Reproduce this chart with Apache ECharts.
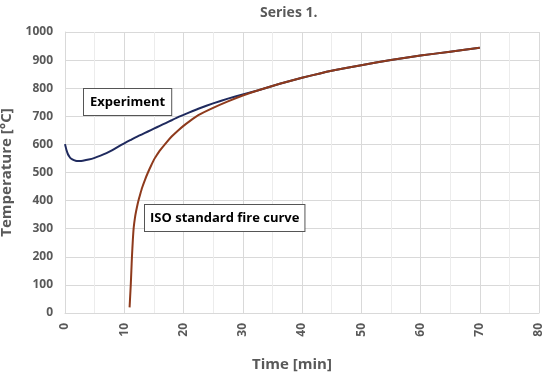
<!DOCTYPE html>
<html>
<head>
<meta charset="utf-8">
<script src="https://cdn.jsdelivr.net/npm/echarts@6/dist/echarts.min.js"></script>
<style>html,body{margin:0;padding:0;background:#fff}#c{width:550px;height:377px}</style>
</head>
<body>
<div id="c"></div>
<script>
// Data: [time (min), temperature (°C)]
var experimentTime = [0, 0.25, 0.5, 0.75, 1, 1.5, 2, 2.5, 3, 4, 5, 6, 7, 8, 9, 10, 11, 12, 13, 14, 15, 16, 17, 18, 19, 20, 21, 22.5, 25, 27.5, 30, 32.5, 35, 37.5, 40, 45, 50, 55, 60, 65, 70];
var experimentTemp = [601, 580, 565, 556, 550, 544, 541, 541, 542, 546, 552, 560, 569, 580, 592, 604, 615, 626, 636, 646, 656, 666, 676, 686, 696, 705, 714, 727, 746, 763, 778, 792, 808, 823, 837, 862, 882, 900, 916, 930, 944];
var isoTime = [10.9, 11.0, 11.1, 11.2, 11.3, 11.45, 11.6, 11.8, 12, 12.25, 12.5, 12.75, 13, 13.5, 14, 14.5, 15, 15.5, 16, 17, 18, 19, 20, 21, 22.5, 25, 27.5, 30, 32.5, 35, 37.5, 40, 45, 50, 55, 60, 65, 70];
var isoTemp = [20, 60, 100, 150, 200, 260, 305, 338, 362, 387, 408, 427, 445, 474, 500, 523, 545, 562, 578, 604, 628, 648, 666, 682, 704, 730, 753, 774, 792, 808, 823, 837, 862, 882, 900, 916, 930, 944];
var xTicks = [0, 10, 20, 30, 40, 50, 60, 70, 80];
var yTicks = [0, 100, 200, 300, 400, 500, 600, 700, 800, 900, 1000];

function pairs(xs, ys) { return xs.map(function (x, i) { return [x, ys[i]]; }); }

var chart = echarts.init(document.getElementById('c'));
var labelColor = '#595959';
var font = '"Open Sans", "Liberation Sans", sans-serif';
chart.setOption({
  animation: false,
  backgroundColor: '#ffffff',
  title: {
    text: 'Series 1.',
    left: 255, top: 1,
    textStyle: { color: labelColor, fontSize: 14, fontWeight: 'bold', fontFamily: font }
  },
  grid: { left: 65, right: 11, top: 32, bottom: 64, containLabel: false, outerBoundsMode: 'none' },
  xAxis: {
    type: 'value',
    min: xTicks[0], max: xTicks[xTicks.length - 1], interval: 10,
    name: 'Time [min]',
    nameLocation: 'middle', nameGap: 44,
    nameTextStyle: { color: labelColor, fontSize: 15, fontWeight: 'bold', fontFamily: font, padding: [0, 20, 0, 0] },
    axisLine: { lineStyle: { color: '#d9d9d9' } },
    axisTick: { show: false },
    axisLabel: { rotate: 90, color: labelColor, fontSize: 12, fontWeight: 'bold', fontFamily: font, margin: 10 },
    splitLine: { lineStyle: { color: '#d9d9d9' } },
    minorTick: { show: false, splitNumber: 2 },
    minorSplitLine: { show: true, lineStyle: { color: '#ececec' } }
  },
  yAxis: {
    type: 'value',
    min: yTicks[0], max: yTicks[yTicks.length - 1], interval: 100,
    name: 'Temperature [°C]',
    nameLocation: 'middle', nameGap: 34,
    nameTextStyle: { color: labelColor, fontSize: 15, fontWeight: 'bold', fontFamily: font },
    axisLine: { show: true, lineStyle: { color: '#d9d9d9' } },
    axisTick: { show: false },
    axisLabel: { color: labelColor, fontSize: 12, fontWeight: 'bold', fontFamily: font, margin: 12,
      formatter: function (v) { return String(v); } },
    splitLine: { lineStyle: { color: '#d9d9d9' } }
  },
  series: [
    {
      name: 'Experiment', type: 'line', smooth: 0.15, showSymbol: false,
      data: pairs(experimentTime, experimentTemp),
      lineStyle: { color: '#1f2a5e', width: 2, join: 'round' }, z: 2
    },
    {
      name: 'ISO standard fire curve', type: 'line', smooth: 0.15, showSymbol: false,
      data: pairs(isoTime, isoTemp),
      lineStyle: { color: '#8e3a1c', width: 2, join: 'round' }, z: 3
    }
  ],
  graphic: [
    {
      type: 'text', left: 83, top: 88, z: 10,
      style: {
        text: 'Experiment', fill: '#000', font: 'bold 13px ' + font,
        backgroundColor: '#fff', borderColor: '#555', borderWidth: 1,
        padding: [7, 6, 6, 6]
      }
    },
    {
      type: 'text', left: 144, top: 204, z: 10,
      style: {
        text: 'ISO standard fire curve', fill: '#000', font: 'bold 13px ' + font,
        backgroundColor: '#fff', borderColor: '#555', borderWidth: 1,
        padding: [7, 5, 6, 5]
      }
    }
  ]
});
</script>
</body>
</html>
